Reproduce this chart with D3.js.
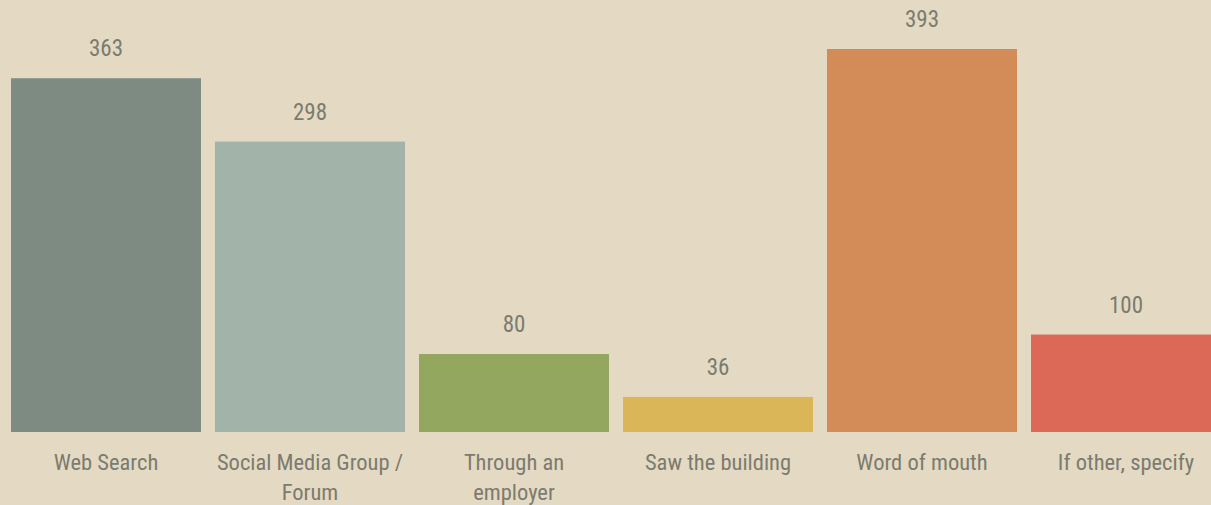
<!DOCTYPE html>
<html>
<head>
<meta charset="utf-8">
<script src="https://cdn.jsdelivr.net/npm/d3@7"></script>
<style>
html,body{margin:0;padding:0;background:#e4d9c2;overflow:hidden;}
svg{display:block;}
text{font-family:"Liberation Sans Narrow","Roboto Condensed","Liberation Sans",sans-serif;fill:#7b7b70;}
</style>
</head>
<body>
<svg id="chart" width="1211" height="505"></svg>
<script>
const categories = ["Web Search","Social Media Group / Forum","Through an employer","Saw the building","Word of mouth","If other, specify"];
const tickLabelLines = [["Web Search"],["Social Media Group /","Forum"],["Through an","employer"],["Saw the building"],["Word of mouth"],["If other, specify"]];
const values = [363, 298, 80, 36, 393, 100];
const colors = ["#7d8b83","#a2b3aa","#93a75e","#dab659","#d38b58","#dc6958"];

const W = 1211, H = 505;
const svg = d3.select("#chart");
svg.append("rect").attr("width",W).attr("height",H).attr("fill","#e4d9c2");

const x = d3.scaleBand().domain(categories).range([4, 1228]).paddingInner(14/204).paddingOuter(7/204);
const y = d3.scaleLinear().domain([0, 393]).range([432, 49]);

const data = categories.map((c,i)=>({c, v: values[i], col: colors[i]}));

svg.selectAll("rect.bar").data(data).join("rect")
  .attr("class","bar")
  .attr("x", d=>x(d.c)).attr("width", x.bandwidth())
  .attr("y", d=>y(d.v)).attr("height", d=>y(0)-y(d.v))
  .attr("fill", d=>d.col);

svg.selectAll("text.val").data(data).join("text")
  .attr("class","val")
  .attr("x", d=>x(d.c)+x.bandwidth()/2)
  .attr("y", d=>y(d.v)-22)
  .attr("text-anchor","middle")
  .style("font-size","23px")
  .text(d=>d.v);

const axis = d3.axisBottom(x).tickSize(0).tickPadding(0);
const gx = svg.append("g").attr("transform","translate(0,432)").call(axis);
gx.select(".domain").remove();
gx.selectAll("text").attr("fill","#7b7b70").style("font-size","22.5px")
  .attr("font-family",null).attr("y",38).attr("dy",null)
  .each(function(d){
    const t = d3.select(this);
    const lines = tickLabelLines[categories.indexOf(d)];
    t.text(null);
    lines.forEach((ln,i)=>{
      t.append("tspan").attr("x",0).attr("y",38+i*30).text(ln);
    });
  });
</script>
</body>
</html>
